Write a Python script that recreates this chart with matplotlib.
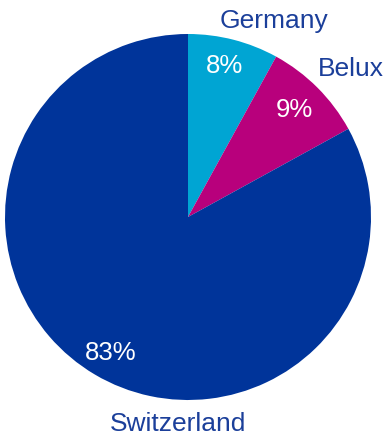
import matplotlib.pyplot as plt

plt.rcParams['font.family'] = ['Liberation Sans', 'DejaVu Sans']

regions = ['Germany', 'Belux', 'Switzerland']
shares = [8, 9, 83]
colors = ['#00A5D3', '#B8007C', '#00349A']
label_color = '#1B3F9A'

# text anchors (centre x, baseline y) in pixel coordinates
label_xy = [(274, 28), (351, 76), (178, 431)]
pct_xy = [(225, 73), (294, 117), (111, 360)]

fig = plt.figure(figsize=(3.84, 4.35), dpi=100)
ax = fig.add_axes([0, 0, 1, 1])

# y axis runs downward, so counterclock=True sweeps clockwise on screen
ax.pie(shares, colors=colors, startangle=270, counterclock=True,
       center=(188, 218), radius=183, frame=True,
       wedgeprops=dict(linewidth=0))
ax.set_xlim(0, 384)
ax.set_ylim(435, 0)
ax.set_aspect('equal')
ax.axis('off')

for name, v, (lx, ly), (px, py) in zip(regions, shares, label_xy, pct_xy):
    ax.text(lx, ly, name, color=label_color, fontsize=19,
            ha='center', va='baseline')
    ax.text(px, py, f'{v}%', color='white', fontsize=18.5,
            ha='center', va='baseline')

fig.savefig('out.png', dpi=100)
